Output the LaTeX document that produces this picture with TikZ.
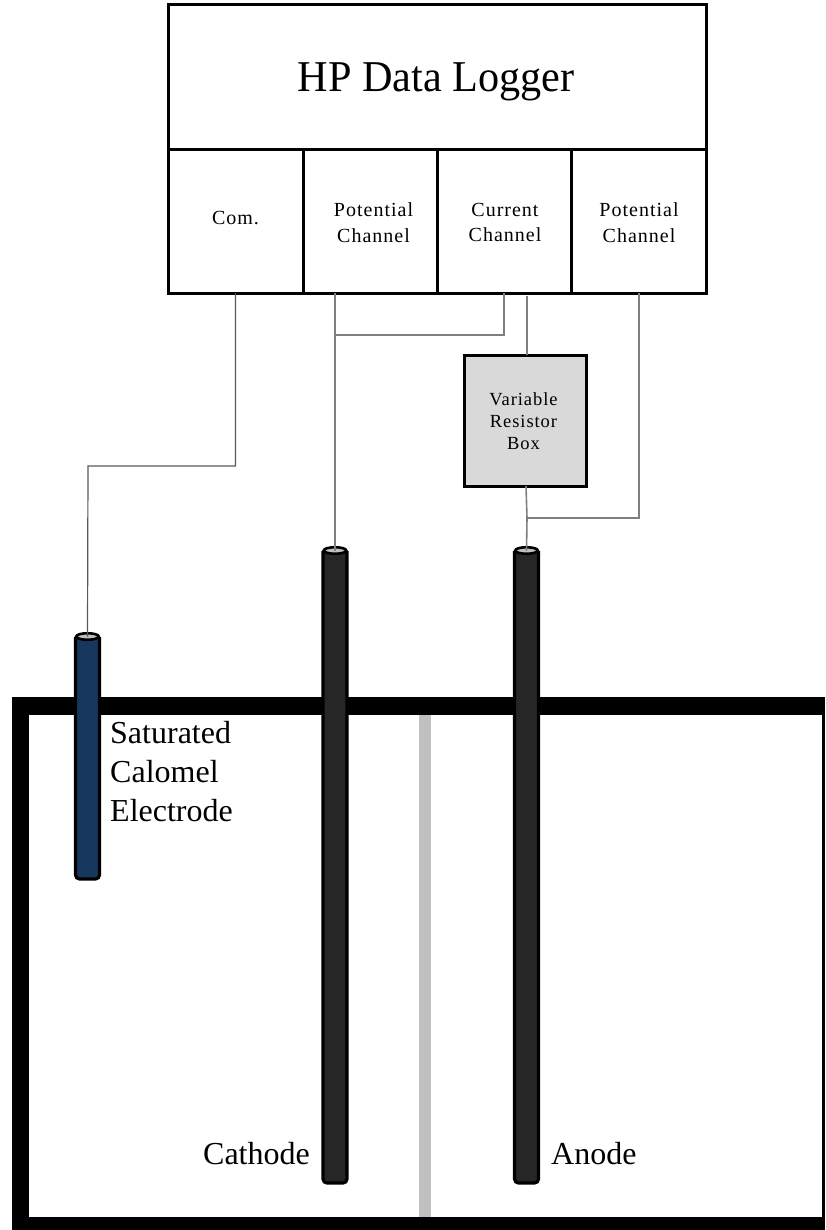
\documentclass[tikz,border=0pt]{standalone}
\usepackage{fontspec}
\setmainfont{Liberation Serif}
\newfontfamily\spaced[LetterSpace=5]{Liberation Serif}
\usetikzlibrary{shapes.geometric}
\definecolor{wiregray}{HTML}{7F7F7F}
\definecolor{rodgray}{HTML}{262626}
\definecolor{rodblue}{HTML}{17375E}
\definecolor{divgray}{HTML}{C0C0C0}
\definecolor{boxgray}{HTML}{D9D9D9}
\definecolor{capgray}{HTML}{BFBFBF}
\tikzset{
  x=1pt,y=-1pt,
  cell/.style={draw=black,line width=3pt,fill=white,inner sep=0pt,outer sep=0pt,align=center,anchor=north west},
  wire/.style={draw=wiregray,line width=1.6pt},
  rod/.style={draw=black,line width=3.2pt,rounded corners=4pt},
  rodcap/.style={ellipse,draw=black,line width=2.6pt,fill=capgray,inner sep=0pt,outer sep=0pt,minimum width=22.5pt,minimum height=6.5pt},
  small/.style={font=\spaced\fontsize{20}{25.5}\selectfont,align=center,inner sep=0pt},
  big/.style={font=\fontsize{32}{39}\selectfont,align=left,inner sep=0pt},
}
\begin{document}
\begin{tikzpicture}
\useasboundingbox (0,0) rectangle (825,1230);
% tank
\fill[black] (11.5,697) rectangle (825,1230);
\fill[white] (29,715) rectangle (821.5,1217);
\fill[divgray] (419,715) rectangle (431,1217);
% logger
\node[cell,minimum width=538pt,minimum height=145pt] (logger) at (168,4.5) {};
\node[anchor=base,inner sep=0pt] (loggert) at (436,92) {\scalebox{.96}[1]{\fontsize{44}{50}\selectfont HP Data Logger}};
\node[cell,minimum width=135pt,minimum height=144pt] (com) at (168,149.5) {};
\node[cell,minimum width=134pt,minimum height=144pt] (pot1) at (303,149.5) {};
\node[cell,minimum width=134pt,minimum height=144pt] (cur) at (437,149.5) {};
\node[cell,minimum width=135pt,minimum height=144pt] (pot2) at (571,149.5) {};
\node[small] (comt) at (235.5,218) {Com.};
\node[small] (pot1t) at (373.5,222.5) {Potential\\Channel};
\node[small] (curt) at (505,222.5) {Current\\Channel};
\node[small] (pot2t) at (639,222.5) {Potential\\Channel};
% resistor
\node[cell,fill=boxgray,minimum width=122pt,minimum height=131pt] (res) at (464,355) {};
\node[font=\spaced\fontsize{18.5}{22}\selectfont,align=center,inner sep=0pt] (rest) at (523.5,421) {Variable\\Resistor\\Box};
% rods
\coordinate (scetop) at (87.5,636.5);
\coordinate (cattop) at (335,550.5);
\coordinate (anotop) at (526.5,550.5);
\draw[rod,fill=rodblue] (75.5,637) -- (75.5,879) -- (99.5,879) -- (99.5,637);
\draw[rod,fill=rodgray] (323,551) -- (323,1183) -- (347,1183) -- (347,551);
\draw[rod,fill=rodgray] (514.5,551) -- (514.5,1183) -- (538.5,1183) -- (538.5,551);
\node[rodcap] (scecap) at (scetop) {};
\node[rodcap] (catcap) at (cattop) {};
\node[rodcap] (anocap) at (anotop) {};
% wires
\coordinate (pot1drop) at (335,293);
\coordinate (potjoin) at (335,335);
\coordinate (curleft) at (504,293);
\coordinate (curright) at (527,296);
\coordinate (resin) at (527,355);
\coordinate (resout) at (526,486);
\coordinate (anojoin) at (527,518);
\coordinate (pot2drop) at (639,293);
\draw[line width=1.2pt,draw=black!65] (com.south) -- (235.5,466) -- (88,466) -- (scecap.center);
\draw[wire] (pot1drop) -- (catcap.center);
\draw[wire] (potjoin) -- (potjoin -| curleft) -- (curleft);
\draw[wire] (curright) -- (resin);
\draw[wire] (resout) -- (anojoin) -- (anocap.center);
\draw[wire] (anojoin) -- (anojoin -| pot2drop) -- (pot2drop);
% labels
\node[big,anchor=north west] (sce) at (110,721) {Saturated\\Calomel\\Electrode};
\node[big,anchor=base east] (cat) at (310,1164) {Cathode};
\node[big,anchor=base west] (ano) at (551,1164) {Anode};
\end{tikzpicture}
\end{document}
